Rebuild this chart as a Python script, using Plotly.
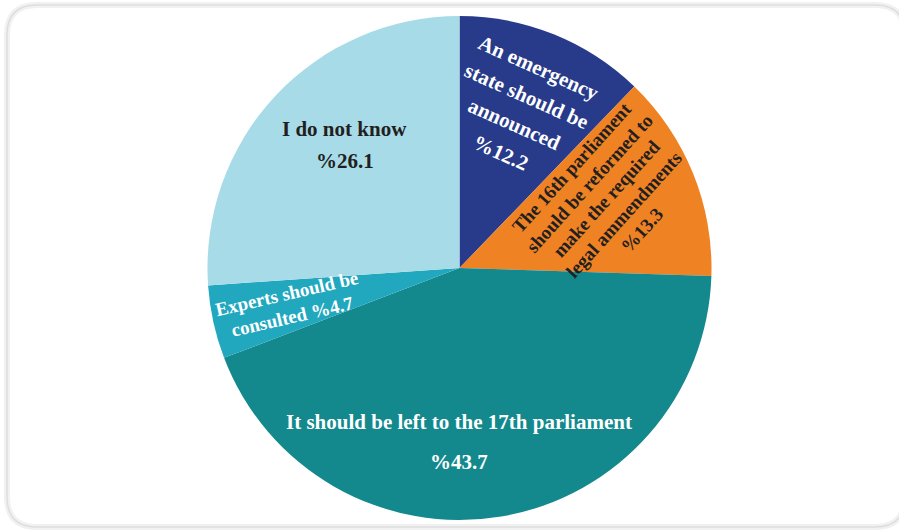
import math
import plotly.graph_objects as go

# Survey answers, clockwise from 12 o'clock
labels = [
    "An emergency state should be announced",
    "The 16th parliament should be reformed to make the required legal ammendments",
    "It should be left to the 17th parliament",
    "Experts should be consulted",
    "I do not know",
]
values = [12.2, 13.3, 43.7, 4.7, 26.1]
colors = ["#283b8a", "#ef8223", "#13898d", "#21a8be", "#a7dbe8"]

# Text lines shown inside each slice
slice_lines = [
    ["An emergency", "state should be", "announced", "%12.2"],
    ["The 16th parliament", "should be reformed to", "make the required",
     "legal ammendments", "%13.3"],
    ["It should be left to the 17th parliament", "%43.7"],
    ["Experts should be", "consulted %4.7"],
    ["I do not know", "%26.1"],
]

# label styling: text colour, size, rotation, line spacing (px),
# radial fraction of the radius, angular nudge (deg)
label_style = [
    dict(color="white", size=21, angle=24, spacing=31, frac=0.67, nudge=-1),
    dict(color="#231f20", size=19, angle=-48, spacing=23.5, frac=0.645, nudge=-3),
    dict(color="white", size=21, angle=0, spacing=40, frac=0.69, nudge=9.6),
    dict(color="white", size=19, angle=-13, spacing=23.5, frac=0.69, nudge=0),
    dict(color="#231f20", size=21, angle=0, spacing=32, frac=0.667, nudge=4),
]

W, H = 899, 531
ML, MR, MT, MB = 20, 0, 16, 11
PW, PH = W - ML - MR, H - MT - MB
R = min(PW, PH) / 2
CX, CY = ML + PW / 2, MT + PH / 2


def to_paper(px, py):
    return (px - ML) / PW, 1 - (py - MT) / PH


fig = go.Figure(
    go.Pie(
        labels=labels,
        values=values,
        sort=False,
        direction="clockwise",
        rotation=0,
        marker=dict(colors=colors, line=dict(width=0)),
        textinfo="none",
        hoverinfo="label+value",
        showlegend=False,
        domain=dict(x=[0, 1], y=[0, 1]),
    )
)

annotations = []
total = sum(values)
cum = 0.0
for i, v in enumerate(values):
    st = label_style[i]
    mid = (cum + v / 2) / total * 360 + st["nudge"]
    cum += v
    r = st["frac"] * R
    px = CX + r * math.sin(math.radians(mid))
    py = CY - r * math.cos(math.radians(mid))
    font = dict(family="Liberation Serif", size=st["size"], color=st["color"])
    a = math.radians(st["angle"])
    nx, ny = -math.sin(a), math.cos(a)  # normal to the text baseline
    lines = slice_lines[i]
    n = len(lines)
    for k, txt in enumerate(lines):
        off = (k - (n - 1) / 2) * st["spacing"]
        x, y = to_paper(px + nx * off, py + ny * off)
        annotations.append(dict(
            x=x, y=y, xref="paper", yref="paper", text="<b>%s</b>" % txt,
            showarrow=False, font=font, textangle=st["angle"],
            xanchor="center", yanchor="middle",
        ))


def rounded_rect(x0, y0, x1, y1, rad):
    def p(a, b):
        xx, yy = to_paper(a, b)
        return "%.5f,%.5f" % (xx, yy)
    return "M %s L %s Q %s %s L %s Q %s %s L %s Q %s %s L %s Q %s %s Z" % (
        p(x0 + rad, y0), p(x1 - rad, y0), p(x1, y0), p(x1, y0 + rad),
        p(x1, y1 - rad), p(x1, y1), p(x1 - rad, y1),
        p(x0 + rad, y1), p(x0, y1), p(x0, y1 - rad),
        p(x0, y0 + rad), p(x0, y0), p(x0 + rad, y0),
    )


frame = rounded_rect(7, 5, 905, 527, 30)
shapes = [
    dict(type="path", path=frame, xref="paper", yref="paper",
         line=dict(color="#f1f1f1", width=6), layer="below"),
    dict(type="path", path=frame, xref="paper", yref="paper",
         line=dict(color="#dedede", width=1.5), layer="below"),
]

fig.update_layout(
    width=W, height=H,
    margin=dict(l=ML, r=MR, t=MT, b=MB),
    paper_bgcolor="white",
    plot_bgcolor="white",
    annotations=annotations,
    shapes=shapes,
)

fig.write_html("out.html")
